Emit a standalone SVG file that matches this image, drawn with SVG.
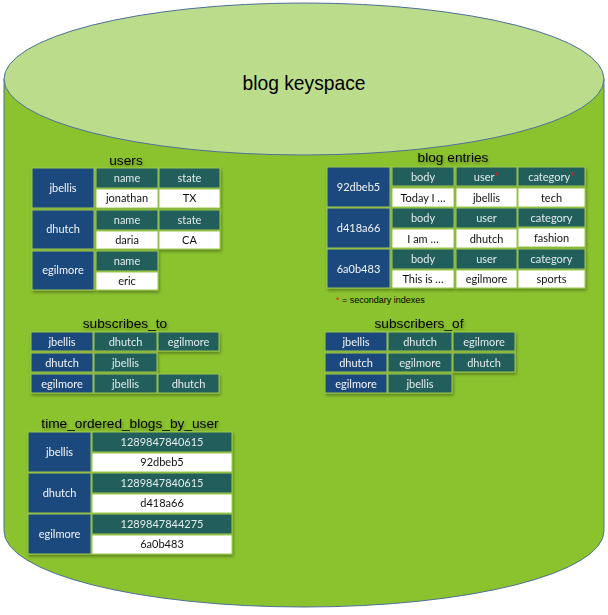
<svg xmlns="http://www.w3.org/2000/svg" width="608" height="615" viewBox="0 0 608 615">
<defs>
<filter id="sh" x="-10%" y="-10%" width="125%" height="130%">
<feDropShadow dx="1" dy="2" stdDeviation="1.5" flood-color="#000" flood-opacity="0.35"/>
</filter>
<style>
.k{fill:#1f497d;stroke:#9cc94f;stroke-width:1}
.h{fill:#215e5c;stroke:#9cc94f;stroke-width:1}
.v{fill:#ffffff;stroke:#9cc94f;stroke-width:1}
text{font-family:Lato,"Noto Sans",sans-serif;font-size:11px;text-anchor:middle}
.kt{fill:#f2f5f8}
.ht{fill:#e4ecec}
.vt{fill:#111111}
.ti{font-family:"Liberation Sans",Arial,sans-serif;font-size:13.7px;fill:#000}
.red{fill:#e0201b}
</style>
</defs>
<g id="cylinder">
<path d="M4,79 L4,531 A300,76 0 0 0 604,531 L604,79 Z" fill="#8bc32e" stroke="#4f6f9a" stroke-width="1"/>
<ellipse cx="304" cy="79" rx="300" ry="76" fill="#bbdd8b" stroke="#4f6f9a" stroke-width="1"/>
<text x="304" y="90" style="font-family:'Liberation Sans',Arial,sans-serif;font-size:21px;fill:#000" textLength="123" lengthAdjust="spacingAndGlyphs">blog keyspace</text>
</g>

<g id="users" filter="url(#sh)">
<text class="ti" x="126" y="165">users</text>
<rect class="k" x="32" y="168" width="62" height="40"/>
<rect class="h" x="96" y="168" width="62" height="20"/>
<rect class="v" x="96" y="189" width="62" height="19"/>
<rect class="h" x="159" y="168" width="61" height="20"/>
<rect class="v" x="159" y="189" width="61" height="19"/>
<text class="kt" x="63" y="192">jbellis</text>
<text class="ht" x="127" y="182">name</text>
<text class="vt" x="127" y="202">jonathan</text>
<text class="ht" x="189.5" y="182">state</text>
<text class="vt" x="189.5" y="202">TX</text>

<rect class="k" x="32" y="210" width="62" height="39"/>
<rect class="h" x="96" y="210" width="62" height="20"/>
<rect class="v" x="96" y="231" width="62" height="18"/>
<rect class="h" x="159" y="210" width="61" height="20"/>
<rect class="v" x="159" y="231" width="61" height="18"/>
<text class="kt" x="63" y="233">dhutch</text>
<text class="ht" x="127" y="224">name</text>
<text class="vt" x="127" y="244">daria</text>
<text class="ht" x="189.5" y="224">state</text>
<text class="vt" x="189.5" y="244">CA</text>

<rect class="k" x="32" y="251" width="62" height="39"/>
<rect class="h" x="96" y="251" width="62" height="20"/>
<rect class="v" x="96" y="272" width="62" height="18"/>
<text class="kt" x="63" y="274">egilmore</text>
<text class="ht" x="127" y="265">name</text>
<text class="vt" x="127" y="285">eric</text>
</g>

<g id="blog_entries" filter="url(#sh)">
<text class="ti" x="453" y="162">blog entries</text>
<rect class="k" x="327" y="167" width="63" height="40"/>
<rect class="h" x="392" y="167" width="62" height="19"/>
<rect class="v" x="392" y="188" width="62" height="19"/>
<rect class="h" x="456" y="167" width="61" height="19"/>
<rect class="v" x="456" y="188" width="61" height="19"/>
<rect class="h" x="518" y="167" width="67" height="19"/>
<rect class="v" x="518" y="188" width="67" height="19"/>
<text class="kt" x="358.5" y="191">92dbeb5</text>
<text class="ht" x="423" y="181">body</text>
<text class="vt" x="423" y="202">Today I …</text>
<text class="ht" x="486.5" y="181">user<tspan class="red">*</tspan></text>
<text class="vt" x="486.5" y="202">jbellis</text>
<text class="ht" x="551.5" y="181">category<tspan class="red">*</tspan></text>
<text class="vt" x="551.5" y="202">tech</text>

<rect class="k" x="327" y="208" width="63" height="40"/>
<rect class="h" x="392" y="208" width="62" height="20"/>
<rect class="v" x="392" y="229" width="62" height="19"/>
<rect class="h" x="456" y="208" width="61" height="20"/>
<rect class="v" x="456" y="229" width="61" height="19"/>
<rect class="h" x="518" y="208" width="67" height="19"/>
<rect class="v" x="518" y="228" width="67" height="19"/>
<text class="kt" x="358.5" y="232">d418a66</text>
<text class="ht" x="423" y="222">body</text>
<text class="vt" x="423" y="243">I am …</text>
<text class="ht" x="486.5" y="222">user</text>
<text class="vt" x="486.5" y="243">dhutch</text>
<text class="ht" x="551.5" y="222">category</text>
<text class="vt" x="551.5" y="242">fashion</text>

<rect class="k" x="327" y="249" width="63" height="39"/>
<rect class="h" x="392" y="249" width="62" height="20"/>
<rect class="v" x="392" y="270" width="62" height="18"/>
<rect class="h" x="456" y="249" width="61" height="20"/>
<rect class="v" x="456" y="270" width="61" height="18"/>
<rect class="h" x="518" y="249" width="67" height="20"/>
<rect class="v" x="518" y="270" width="67" height="18"/>
<text class="kt" x="358.5" y="273">6a0b483</text>
<text class="ht" x="423" y="263">body</text>
<text class="vt" x="423" y="283">This is …</text>
<text class="ht" x="486.5" y="263">user</text>
<text class="vt" x="486.5" y="283">egilmore</text>
<text class="ht" x="551.5" y="263">category</text>
<text class="vt" x="551.5" y="283">sports</text>
</g>
<g id="legend">
<text x="336" y="303" style="font-family:'Liberation Sans',Arial,sans-serif;font-size:9px;text-anchor:start;fill:#000"><tspan class="red">*</tspan> = secondary indexes</text>
</g>

<g id="subscribes_to" filter="url(#sh)">
<text class="ti" x="125" y="328">subscribes_to</text>
<rect class="k" x="31" y="332" width="62" height="19"/>
<rect class="h" x="94" y="332" width="63" height="19"/>
<rect class="h" x="158" y="332" width="61" height="19"/>
<text class="kt" x="62" y="345.5">jbellis</text>
<text class="ht" x="125.5" y="345.5">dhutch</text>
<text class="ht" x="188.5" y="345.5">egilmore</text>
<rect class="k" x="31" y="353" width="62" height="19"/>
<rect class="h" x="94" y="353" width="63" height="19"/>
<text class="kt" x="62" y="366.5">dhutch</text>
<text class="ht" x="125.5" y="366.5">jbellis</text>
<rect class="k" x="31" y="374" width="62" height="19"/>
<rect class="h" x="94" y="374" width="63" height="19"/>
<rect class="h" x="158" y="374" width="61" height="19"/>
<text class="kt" x="62" y="387.5">egilmore</text>
<text class="ht" x="125.5" y="387.5">jbellis</text>
<text class="ht" x="188.5" y="387.5">dhutch</text>
</g>

<g id="subscribers_of" filter="url(#sh)">
<text class="ti" x="419" y="328">subscribers_of</text>
<rect class="k" x="325" y="332" width="62" height="19"/>
<rect class="h" x="388" y="332" width="64" height="19"/>
<rect class="h" x="453" y="332" width="62" height="19"/>
<text class="kt" x="356" y="345.5">jbellis</text>
<text class="ht" x="420" y="345.5">dhutch</text>
<text class="ht" x="484" y="345.5">egilmore</text>
<rect class="k" x="325" y="353" width="62" height="19"/>
<rect class="h" x="388" y="353" width="64" height="19"/>
<rect class="h" x="453" y="353" width="62" height="19"/>
<text class="kt" x="356" y="366.5">dhutch</text>
<text class="ht" x="420" y="366.5">egilmore</text>
<text class="ht" x="484" y="366.5">dhutch</text>
<rect class="k" x="325" y="374" width="62" height="19"/>
<rect class="h" x="388" y="374" width="64" height="19"/>
<text class="kt" x="356" y="387.5">egilmore</text>
<text class="ht" x="420" y="387.5">jbellis</text>
</g>

<g id="time_ordered_blogs_by_user" filter="url(#sh)">
<text class="ti" x="130" y="428">time_ordered_blogs_by_user</text>
<rect class="k" x="28" y="432" width="63" height="40"/>
<rect class="h" x="92" y="432" width="140" height="20"/>
<rect class="v" x="92" y="453" width="140" height="19"/>
<text class="kt" x="59.5" y="456">jbellis</text>
<text class="ht" x="162" y="446">1289847840615</text>
<text class="vt" x="162" y="466">92dbeb5</text>
<rect class="k" x="28" y="473" width="63" height="40"/>
<rect class="h" x="92" y="473" width="140" height="20"/>
<rect class="v" x="92" y="494" width="140" height="19"/>
<text class="kt" x="59.5" y="497">dhutch</text>
<text class="ht" x="162" y="487">1289847840615</text>
<text class="vt" x="162" y="507">d418a66</text>
<rect class="k" x="28" y="514" width="63" height="40"/>
<rect class="h" x="92" y="514" width="140" height="20"/>
<rect class="v" x="92" y="535" width="140" height="19"/>
<text class="kt" x="59.5" y="538">egilmore</text>
<text class="ht" x="162" y="528">1289847844275</text>
<text class="vt" x="162" y="548">6a0b483</text>
</g>
</svg>
